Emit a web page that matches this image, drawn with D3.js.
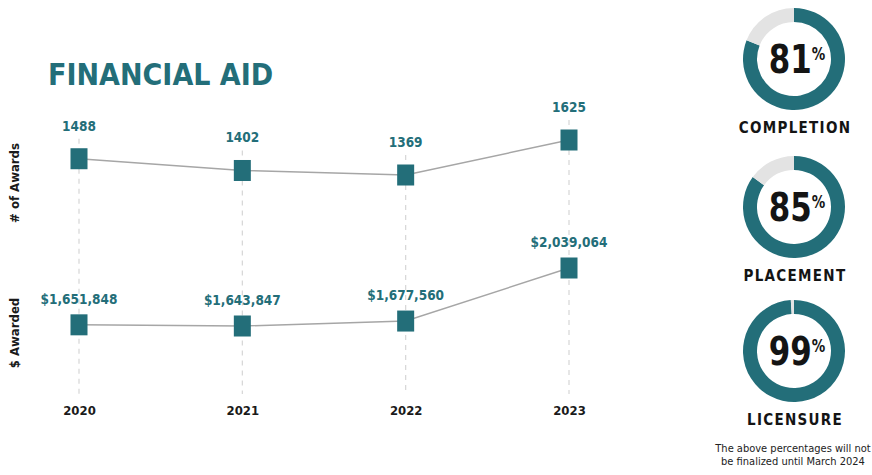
<!DOCTYPE html>
<html lang="en">
<head>
<meta charset="UTF-8">
<script src="https://cdn.jsdelivr.net/npm/d3@7"></script>
<style>
    body { margin: 0; background: #fff; overflow: hidden; }
    svg { display: block; font-family: "DejaVu Sans Condensed", "DejaVu Sans", sans-serif; }
</style>
</head>
<body>
<div id="chart"></div>
<script>
    // data
    const years = ["2020", "2021", "2022", "2023"];
    const awards = [1488, 1402, 1369, 1625];
    const dollars = [1651848, 1643847, 1677560, 2039064];
    const rateNames = ["COMPLETION", "PLACEMENT", "LICENSURE"];
    const rates = [81, 85, 99];
    const footnote = ["The above percentages will not", "be finalized until March 2024"];

    const W = 872, H = 475;
    const teal = "#236e79";

    const svg = d3.select("#chart").append("svg")
        .attr("width", W).attr("height", H);

    svg.append("text")
        .attr("x", 48).attr("y", 85)
        .attr("fill", teal)
        .attr("font-size", 30).attr("font-weight", "bold")
        .text("FINANCIAL AID");

    const x = d3.scalePoint().domain(years).range([79, 569]);
    // two stacked value scales
    const yAwards = d3.scaleLinear().domain([1369, 1625]).range([175, 140]);
    const yDollars = d3.scaleLinear().domain([1643847, 2039064]).range([326, 268]);
    const awOff = 28, dlOff = 21;

    // dashed guides, from just under the top label down to the years
    svg.selectAll(".guide").data(years).enter().append("line")
        .attr("x1", d => x(d)).attr("x2", d => x(d))
        .attr("y1", (d, i) => yAwards(awards[i]) - awOff + 8).attr("y2", 394)
        .attr("stroke", "#d6d6d6").attr("stroke-width", 1.2)
        .attr("stroke-dasharray", "5,5");

    // year axis
    const xAxis = svg.append("g").attr("transform", "translate(0,396)")
        .call(d3.axisBottom(x).tickSize(0).tickPadding(10));
    xAxis.select(".domain").remove();
    xAxis.selectAll("text")
        .attr("font-family", "\"DejaVu Sans Condensed\", sans-serif")
        .attr("font-size", 13).attr("font-weight", "bold").attr("fill", "#1a1a1a");

    function series(vals, y, fmt, off, cls) {
        const pts = vals.map((v, i) => [x(years[i]), y(v)]);
        svg.append("path")
            .attr("d", d3.line()(pts))
            .attr("fill", "none").attr("stroke", "#a6a6a6").attr("stroke-width", 1.5);
        svg.selectAll("." + cls).data(vals).enter().append("rect")
            .attr("class", cls)
            .attr("x", (d, i) => x(years[i]) - 8.5)
            .attr("y", d => y(d) - 10.5)
            .attr("width", 17).attr("height", 21)
            .attr("fill", teal);
        svg.selectAll("." + cls + "-lbl").data(vals).enter().append("text")
            .attr("class", cls + "-lbl")
            .attr("x", (d, i) => x(years[i]))
            .attr("y", d => y(d) - off)
            .attr("text-anchor", "middle")
            .attr("font-size", 13.5).attr("font-weight", "bold")
            .attr("fill", teal)
            .text(fmt);
    }
    series(awards, yAwards, d => d, awOff, "aw");
    series(dollars, yDollars, d => "$" + d3.format(",")(d), dlOff, "dl");

    // side titles
    [["# of Awards", 183], ["$ Awarded", 333]].forEach(([t, cy]) => {
        svg.append("text")
            .attr("transform", `translate(19,${cy}) rotate(-90)`)
            .attr("text-anchor", "middle")
            .attr("font-size", 13).attr("font-weight", "bold").attr("fill", "#1a1a1a")
            .text(t);
    });

    // donuts
    const centersY = [59, 207, 351];
    const arc = d3.arc().innerRadius(37).outerRadius(51);
    const pie = d3.pie().sort(null);
    rates.forEach((r, i) => {
        const g = svg.append("g").attr("transform", `translate(794,${centersY[i]})`);
        g.selectAll("path").data(pie([r, 100 - r])).enter().append("path")
            .attr("d", arc)
            .attr("fill", (d, j) => j === 0 ? teal : "#e3e3e3");
        const t = g.append("text")
            .attr("transform", "translate(3,14) scale(0.88,1)")
            .attr("text-anchor", "middle")
            .attr("fill", "#141414").attr("font-weight", "bold");
        t.append("tspan").attr("font-size", 39).text(r);
        t.append("tspan").attr("font-size", 17).attr("dy", -13).text("%");
        svg.append("text")
            .attr("x", 795).attr("y", centersY[i] + 74)
            .attr("text-anchor", "middle")
            .attr("font-size", 15).attr("font-weight", "bold")
            .attr("letter-spacing", 1.3).attr("fill", "#141414")
            .text(rateNames[i]);
    });

    svg.selectAll(".foot").data(footnote).enter().append("text")
        .attr("x", 793).attr("y", (d, i) => 452 + i * 13)
        .attr("text-anchor", "middle")
        .attr("font-size", 11).attr("fill", "#222")
        .text(d => d);
</script>
</body>
</html>
